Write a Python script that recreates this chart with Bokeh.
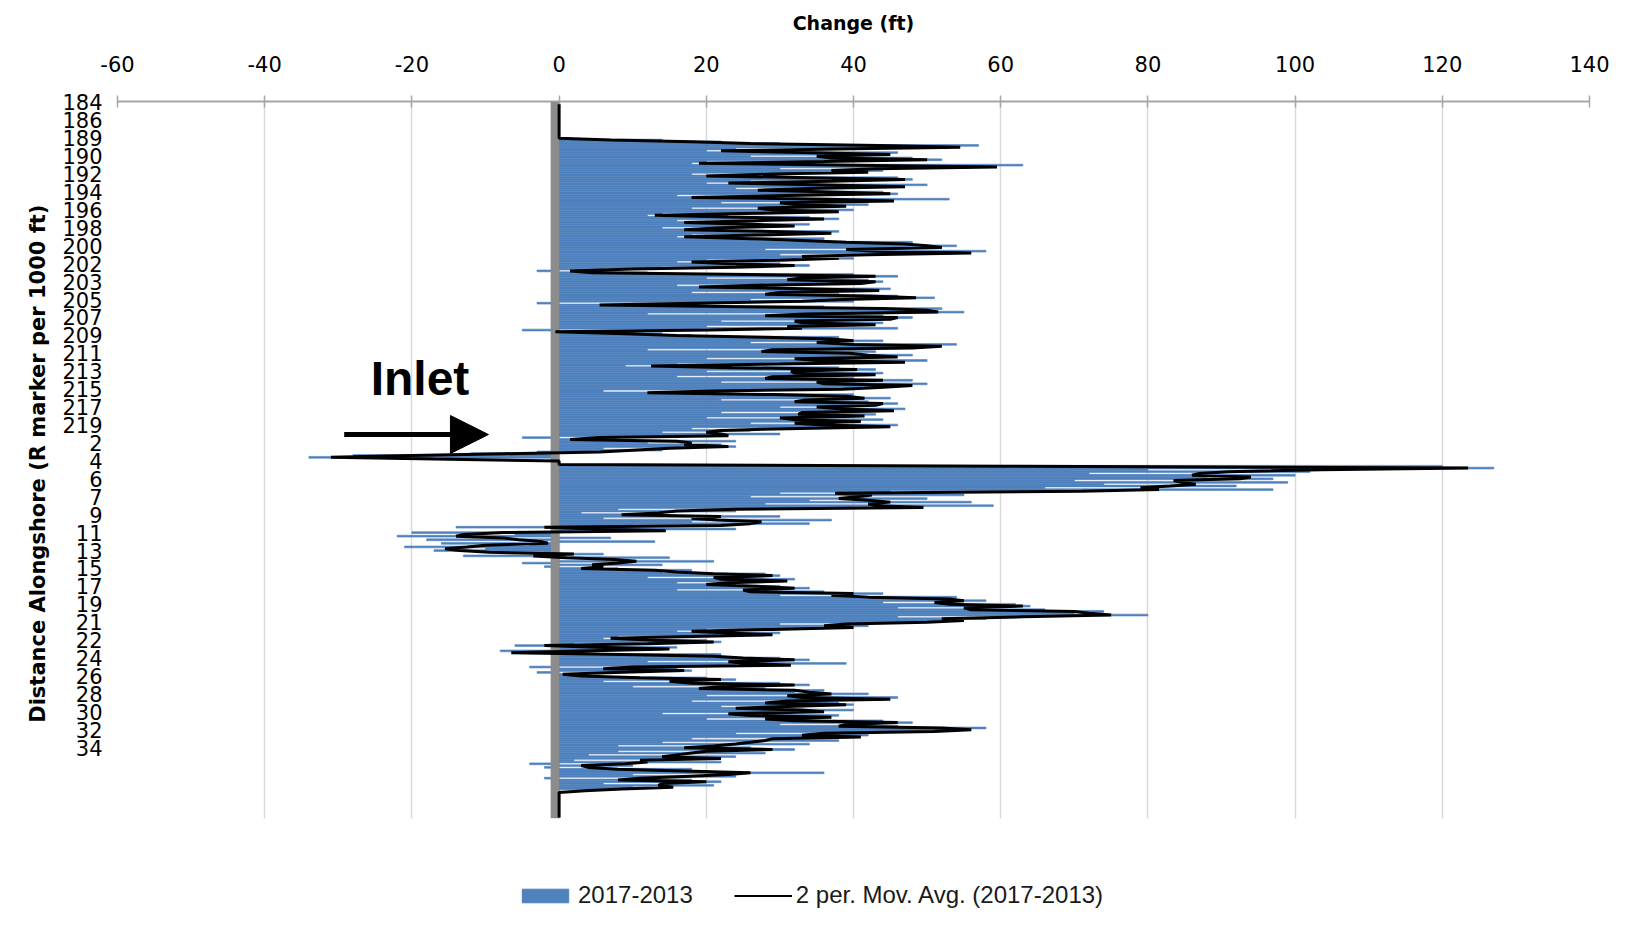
from bokeh.plotting import figure
from bokeh.layouts import column
from bokeh.models import (Range1d, FixedTicker, BoxAnnotation, Arrow, NormalHead,
                          Label, Legend, LegendItem)
from bokeh.embed import file_html
from bokeh.resources import INLINE

# ---------------- data ----------------
r_marker_labels = ["184", "186", "189", "190", "192", "194", "196", "198", "200", "202",
                   "203", "205", "207", "209", "211", "213", "215", "217", "219", "2",
                   "4", "6", "7", "9", "11", "13", "15", "17", "19", "21",
                   "22", "24", "26", "28", "30", "32", "34"]
label_every = 10
x_ticks = [-60, -40, -20, 0, 20, 40, 60, 80, 100, 120, 140]

# shoreline change 2017-2013 (ft), one value per profile, top to bottom
change_2017_2013 = [
    0, 0, 0, 0, 0, 0, 0, 0, 0, 0,
    0, 0, 0, 0, 0, 0, 0, 0, 0, 0,
    0, 14, 22, 30, 57, 52, 24, 20, 46, 44,
    26, 48, 52, 20, 18, 63, 56, 30, 44, 40,
    18, 22, 46, 48, 26, 20, 50, 44, 24, 30,
    44, 46, 16, 20, 53, 38, 22, 42, 36, 18,
    40, 36, 14, 12, 34, 38, 16, 18, 34, 30,
    14, 20, 38, 36, 18, 16, 36, 30, 48, 46,
    54, 50, 28, 58, 54, 30, 36, 40, 20, 16,
    30, 34, 14, 6, -3, 12, 40, 46, 20, 42,
    44, 38, 16, 22, 45, 42, 18, 38, 46, 51,
    26, 40, -3, 14, 36, 52, 48, 55, 12, 44,
    48, 42, 22, 44, 42, 20, 46, -5, 4, 14,
    18, 38, 36, 44, 26, 54, 50, 46, 12, 43,
    36, 48, 44, 20, 50, 44, 16, 9, 38, 43,
    20, 44, 42, 16, 40, 48, 22, 50, 46, 41,
    36, 6, 18, 40, 38, 45, 22, 42, 46, 40,
    30, 47, 44, 22, 43, 40, 20, 44, 38, 26,
    46, 44, 18, 26, 14, 30, 16, -5, 8, 24,
    12, 22, 24, 6, 14, -3, -12, -28, -34, 0,
    0, 0, 0, 120, 127, 80, 102, 72, 100, 88,
    97, 70, 99, 74, 92, 66, 97, 45, 30, 55,
    26, 50, 34, 56, 28, 59, 40, 8, 24, 3,
    14, 30, 6, 37, 18, 34, 10, -14, 24, 5,
    -20, -6, -22, 7, -18, 13, -16, -4, -21, -10,
    -17, -2, 6, -13, 15, 0, 21, -5, 14, -2,
    8, 18, 14, 28, 30, 12, 32, 30, 16, 24,
    30, 34, 16, 36, 44, 30, 54, 52, 58, 44,
    62, 64, 46, 66, 74, 70, 80, 46, 58, 52,
    48, 30, 42, 38, 20, 16, 30, 28, 8, 6,
    20, 22, 2, -6, 16, 14, -8, -5, 22, 20,
    30, 34, 12, 39, 24, -4, 16, 18, -3, 4,
    2, 20, 24, 6, 30, 34, 10, 28, 36, 32,
    42, 20, 46, 44, 18, 38, 40, 22, 26, 40,
    32, 14, 38, 36, 20, 44, 48, 30, 46, 58,
    54, 48, 24, 42, 40, 18, 38, 14, 34, 8,
    26, 32, 8, 28, 4, 24, 20, 2, 22, -4,
    10, -2, 18, 16, 36, 10, 24, -2, 18, 22,
    6, 21, 10, 7, 0, 0, 0, 0, 0, 0,
    0, 0, 0, 0, 0, 0, 0, 0, 0, 0,
]
profile = list(range(len(change_2017_2013)))

# 2-period moving average (Excel trendline)
ma_profile = profile[1:]
ma_values = [(a + b) / 2 for a, b in zip(change_2017_2013[:-1], change_2017_2013[1:])]

# annotation positions
inlet_text_x, inlet_text_y = -25.6, 153.8
arrow_x0, arrow_x1, arrow_y = -29.2, -9.6, 185.3

BAR_COLOR = "#4F81BD"

# ---------------- main figure ----------------
n = len(profile)
p = figure(width=1629, height=830, output_backend="svg", toolbar_location=None,
           x_range=Range1d(-60, 140), y_range=Range1d(n - 0.5, -0.5),
           x_axis_location="above",
           min_border_left=117, min_border_right=40, min_border_top=101, min_border_bottom=12)
p.outline_line_color = None
p.background_fill_color = "white"
p.border_fill_color = "white"

bars = p.hbar(y=profile, left=0, right=change_2017_2013, height=1.0,
              fill_color=BAR_COLOR, line_color=BAR_COLOR, line_width=0.6)

band = BoxAnnotation(left=-1.15, right=0, fill_color="#8C8C8C", fill_alpha=1.0,
                     line_color=None)
p.add_layout(band)

ma_line = p.line(x=ma_values, y=ma_profile, line_color="black", line_width=3)
ma_line.level = "overlay"

# x axis (top)
xa = p.xaxis[0]
xa.ticker = FixedTicker(ticks=x_ticks)
xa.major_label_overrides = {t: str(t) for t in x_ticks}
xa.axis_label = "Change (ft)"
xa.axis_label_text_font = "DejaVu Sans"
xa.axis_label_text_font_style = "bold"
xa.axis_label_text_font_size = "19px"
xa.axis_label_text_color = "black"
xa.axis_label_standoff = 19
xa.major_label_text_font = "DejaVu Sans"
xa.major_label_text_font_size = "21px"
xa.major_label_text_color = "black"
xa.major_label_standoff = 24
xa.axis_line_color = "#A6A6A6"
xa.axis_line_width = 2
xa.major_tick_line_color = "#A6A6A6"
xa.major_tick_line_width = 1.5
xa.major_tick_in = 6
xa.major_tick_out = 6
xa.minor_tick_line_color = None

# y axis (left, category labels)
ya = p.yaxis[0]
ya.ticker = FixedTicker(ticks=[i * label_every for i in range(len(r_marker_labels))])
ya.major_label_overrides = {i * label_every: lab for i, lab in enumerate(r_marker_labels)}
ya.axis_label = "Distance  Alongshore (R marker per 1000 ft)"
ya.axis_label_text_font = "DejaVu Sans"
ya.axis_label_text_font_style = "bold"
ya.axis_label_text_font_size = "21px"
ya.axis_label_text_color = "black"
ya.axis_label_standoff = 9
ya.major_label_text_font = "DejaVu Sans"
ya.major_label_text_font_size = "21px"
ya.major_label_text_color = "black"
ya.major_label_standoff = 9
ya.axis_line_color = None
ya.major_tick_line_color = None
ya.minor_tick_line_color = None

p.xgrid.grid_line_color = "#D9D9D9"
p.xgrid.grid_line_width = 1.5
p.xgrid.ticker = FixedTicker(ticks=x_ticks)
p.ygrid.grid_line_color = None

# Inlet annotation
p.add_layout(Arrow(end=NormalHead(size=38, fill_color="black", line_color="black"),
                   x_start=arrow_x0, y_start=arrow_y, x_end=arrow_x1, y_end=arrow_y,
                   line_width=5, line_color="black"))
p.add_layout(Label(x=inlet_text_x, y=inlet_text_y, text="Inlet",
                   text_font="Liberation Sans", text_font_style="bold",
                   text_font_size="48px", text_baseline="alphabetic", text_color="black"))

# ---------------- legend strip ----------------
q = figure(width=1629, height=100, output_backend="svg", toolbar_location=None,
           x_axis_type=None, y_axis_type=None,
           x_range=Range1d(1000, 1001), y_range=Range1d(1000, 1001),
           min_border=0)
q.outline_line_color = None
q.xgrid.grid_line_color = None
q.ygrid.grid_line_color = None
lg_bars = q.hbar(y=profile, left=0, right=change_2017_2013, height=1.0,
                 fill_color=BAR_COLOR, line_color=BAR_COLOR)
lg_line = q.line(x=ma_values, y=ma_profile, line_color="black", line_width=2)

legend = Legend(items=[LegendItem(label="2017-2013", renderers=[lg_bars]),
                       LegendItem(label="2 per. Mov. Avg. (2017-2013)", renderers=[lg_line])],
                orientation="horizontal", location=(399, 21),
                label_text_font="Liberation Sans", label_text_font_size="24px",
                label_text_color="#1a1a1a",
                glyph_width=58, glyph_height=17, spacing=41, label_standoff=4,
                padding=0, margin=0, border_line_color=None, background_fill_alpha=0)
q.add_layout(legend, "center")

layout = column(p, q, spacing=0)
open("out.html", "w").write(file_html(layout, INLINE))
